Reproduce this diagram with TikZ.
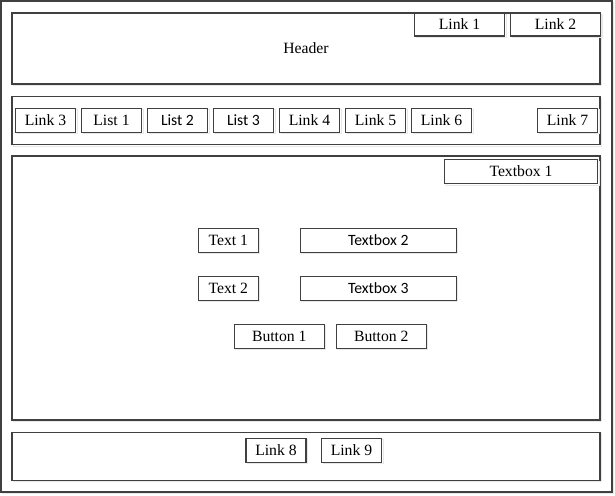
\documentclass[tikz,border=0pt]{standalone}
\usepackage{fontspec}
\setmainfont{Liberation Serif}
\newfontfamily\calfont{Carlito}
\begin{document}
\begin{tikzpicture}[x=1pt,y=-1pt,
  box/.style={draw=black!75,line width=1.1pt,fill=white,inner sep=0pt,outer sep=0pt,
    font=\fontsize{15.7}{18}\selectfont,
    preaction={draw=black!9,line width=1.1pt,transform canvas={shift={(1.6pt,-1.6pt)}}}},
  area/.style={box},
  cal/.style={font=\calfont\fontsize{15.7}{18}\selectfont}
]
\useasboundingbox (0,0) rectangle (615,495);
% outer frame
\node[area,minimum width=611pt,minimum height=491pt] (frame) at (306.5,246.5) {};
% header
\node[area,minimum width=588pt,minimum height=71pt] (header) at (306,48.5) {};
\node[font=\fontsize{15.7}{18}\selectfont] (headertxt) at (306,48) {Header};
\node[box,minimum width=90pt,minimum height=23pt] (link1) at (459.5,24.5) {Link 1};
\node[box,minimum width=90pt,minimum height=23pt] (link2) at (555.5,24.5) {Link 2};
% navigation
\node[area,minimum width=588pt,minimum height=48pt] (nav) at (306,120.5) {};
\node[box,minimum width=60pt,minimum height=24pt] (link3) at (45.5,120.3) {Link 3};
\node[box,minimum width=60pt,minimum height=24pt] (list1) at (111.5,120.3) {List 1};
\node[box,cal,minimum width=60pt,minimum height=24pt] (list2) at (177.5,120.3) {List 2};
\node[box,cal,minimum width=60pt,minimum height=24pt] (list3) at (243.5,120.3) {List 3};
\node[box,minimum width=60pt,minimum height=24pt] (link4) at (309.5,120.3) {Link 4};
\node[box,minimum width=60pt,minimum height=24pt] (link5) at (375.5,120.3) {Link 5};
\node[box,minimum width=60pt,minimum height=24pt] (link6) at (441.5,120.3) {Link 6};
\node[box,minimum width=60pt,minimum height=24pt] (link7) at (567.5,120.3) {Link 7};
% main
\node[area,minimum width=588pt,minimum height=264pt] (main) at (306,288) {};
\node[box,minimum width=153pt,minimum height=24pt] (tb1) at (521,171.5) {Textbox 1};
\node[box,minimum width=60pt,minimum height=24pt] (text1) at (228.3,240.3) {Text 1};
\node[box,cal,minimum width=156pt,minimum height=24pt] (tb2) at (378.3,240.3) {Textbox 2};
\node[box,minimum width=60pt,minimum height=24pt] (text2) at (228.3,288.3) {Text 2};
\node[box,cal,minimum width=156pt,minimum height=24pt] (tb3) at (378.3,288.3) {Textbox 3};
\node[box,minimum width=90pt,minimum height=24pt] (btn1) at (279.3,336.3) {Button 1};
\node[box,minimum width=90pt,minimum height=24pt] (btn2) at (381.3,336.3) {Button 2};
% footer
\node[area,minimum width=588pt,minimum height=48pt] (footer) at (306,456.3) {};
\node[box,minimum width=60pt,minimum height=24pt] (link8) at (276,450.3) {Link 8};
\node[box,minimum width=60pt,minimum height=24pt] (link9) at (351.5,450.3) {Link 9};
\end{tikzpicture}
\end{document}
